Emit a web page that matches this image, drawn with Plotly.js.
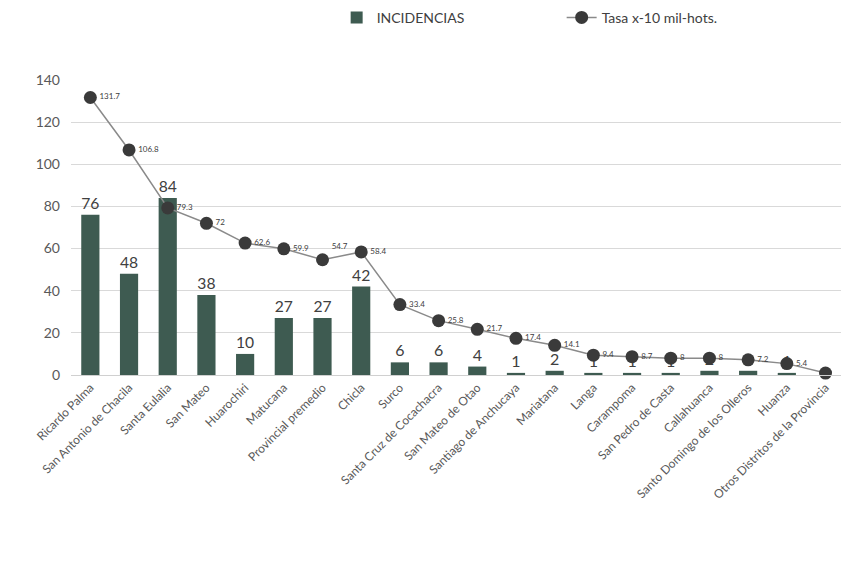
<!DOCTYPE html>
<html><head><meta charset="utf-8">
<script src="https://cdn.plot.ly/plotly-3.0.1.min.js"></script>
<style>html,body{margin:0;padding:0;background:#fff;} #chart{width:841px;height:566px;}</style>
</head><body><div id="chart"></div>
<script>
const categories = ["Ricardo Palma","San Antonio de Chacila","Santa Eulalia","San Mateo","Huarochiri","Matucana","Provincial premedio","Chicla","Surco","Santa Cruz de Cocachacra","San Mateo de Otao","Santiago de Anchucaya","Mariatana","Langa","Carampoma","San Pedro de Casta","Callahuanca","Santo Domingo de los Olleros","Huanza","Otros Distritos de la Provincia"];
const incidencias = [76, 48, 84, 38, 10, 27, 27, 42, 6, 6, 4, 1, 2, 1, 1, 1, 2, 2, 1, null];
const tasa = [131.7, 106.8, 79.3, 72, 62.6, 59.9, 54.7, 58.4, 33.4, 25.8, 21.7, 17.4, 14.1, 9.4, 8.7, 8.0, 8.0, 7.2, 5.4, 0.9];
const tasaLabels = ["131.7","106.8","79.3","72","62.6","59.9","54.7","58.4","33.4","25.8","21.7","17.4","14.1","9.4","8.7","8","8","7.2","5.4",""];
const tasaLabelPos = ["middle right","middle right","middle right","middle right","middle right","middle right","top right","middle right","middle right","middle right","middle right","middle right","middle right","middle right","middle right","middle right","middle right","middle right","middle right","middle right"];

const fontFam = "Lato, 'Open Sans', sans-serif";

const traces = [
  {
    type: "bar", name: "INCIDENCIAS", x: categories, y: incidencias,
    marker: {color: "#3e5b51"}, width: 0.47,
    text: incidencias.map(v => v === null ? "" : String(v)),
    textposition: "outside", cliponaxis: false,
    textfont: {size: 16, color: "#404040", family: fontFam}
  },
  {
    type: "scatter", mode: "lines+markers+text", name: "Tasa x-10 mil-hots.",
    x: categories, y: tasa,
    line: {color: "#8a8a8a", width: 1.5},
    marker: {color: "#3a3a3a", size: 13},
    text: tasaLabels, textposition: tasaLabelPos,
    textfont: {size: 8, color: "#404040", family: fontFam},
    cliponaxis: false
  }
];

const layout = {
  width: 841, height: 566, autosize: false,
  margin: {l: 71, r: 0, t: 80, b: 191, autoexpand: false},
  paper_bgcolor: "#ffffff", plot_bgcolor: "#ffffff",
  font: {family: fontFam, color: "#595959"},
  showlegend: true,
  legend: {orientation: "h", x: 0.345, xanchor: "left", y: 1.265, yanchor: "top",
    font: {size: 14, color: "#404040", family: fontFam}, entrywidth: 180, entrywidthmode: "pixels",
    bgcolor: "rgba(0,0,0,0)"},
  xaxis: {
    type: "category", range: [-0.5, 19.4], tickangle: -45, automargin: false,
    tickfont: {size: 12, color: "#595959", family: fontFam},
    showgrid: false, showline: true, linecolor: "#d0d0d0", ticks: "", fixedrange: true
  },
  yaxis: {
    range: [0, 140], dtick: 20, tick0: 0, automargin: false,
    gridcolor: "#d9d9d9", gridwidth: 1, zeroline: true, zerolinecolor: "#cfcfcf",
    showline: false, ticks: "", ticklabelstandoff: 10,
    tickfont: {size: 14, color: "#595959", family: fontFam}, fixedrange: true
  }
};

Plotly.newPlot("chart", traces, layout, {displayModeBar: false, staticPlot: true});
</script>
</body></html>
